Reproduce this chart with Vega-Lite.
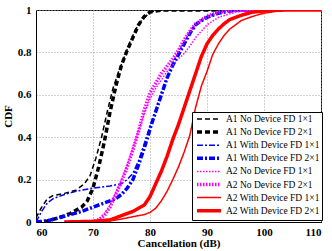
{
  "$schema": "https://vega.github.io/schema/vega-lite/v6.json",
  "width": 285,
  "height": 212,
  "autosize": {"type": "none"},
  "padding": {"left": 36, "top": 10, "right": 11, "bottom": 29},
  "background": "white",
  "config": {
    "view": {"stroke": "black", "strokeWidth": 1},
    "font": "Liberation Serif, Times New Roman, serif",
    "axis": {
      "labelFont": "Liberation Serif, Times New Roman, serif",
      "labelFontWeight": "bold",
      "labelFontSize": 11,
      "labelColor": "black",
      "titleFont": "Liberation Serif, Times New Roman, serif",
      "titleFontWeight": "bold",
      "titleFontSize": 11,
      "titleColor": "black",
      "domainColor": "black",
      "ticks": false,
      "gridColor": "#a0a0a0",
      "gridDash": [1, 2],
      "gridWidth": 1
    },
    "legend": {
      "labelFont": "Liberation Serif, Times New Roman, serif",
      "labelFontSize": 9.5,
      "labelColor": "black"
    }
  },
  "data": {
    "values": [
      {"series": "A1 No Device FD 1×1", "x": 60, "y": 0.02},
      {"series": "A1 No Device FD 1×1", "x": 61, "y": 0.07},
      {"series": "A1 No Device FD 1×1", "x": 62, "y": 0.11},
      {"series": "A1 No Device FD 1×1", "x": 63, "y": 0.125},
      {"series": "A1 No Device FD 1×1", "x": 65, "y": 0.135},
      {"series": "A1 No Device FD 1×1", "x": 67, "y": 0.15},
      {"series": "A1 No Device FD 1×1", "x": 68.5, "y": 0.18},
      {"series": "A1 No Device FD 1×1", "x": 69.5, "y": 0.22},
      {"series": "A1 No Device FD 1×1", "x": 70.5, "y": 0.3},
      {"series": "A1 No Device FD 1×1", "x": 71.5, "y": 0.4},
      {"series": "A1 No Device FD 1×1", "x": 72.5, "y": 0.52},
      {"series": "A1 No Device FD 1×1", "x": 73.5, "y": 0.63},
      {"series": "A1 No Device FD 1×1", "x": 74.5, "y": 0.71},
      {"series": "A1 No Device FD 1×1", "x": 75.5, "y": 0.78},
      {"series": "A1 No Device FD 1×1", "x": 76.5, "y": 0.85},
      {"series": "A1 No Device FD 1×1", "x": 77.5, "y": 0.91},
      {"series": "A1 No Device FD 1×1", "x": 78.5, "y": 0.95},
      {"series": "A1 No Device FD 1×1", "x": 80, "y": 0.99},
      {"series": "A1 No Device FD 1×1", "x": 82, "y": 1},
      {"series": "A1 No Device FD 1×1", "x": 100, "y": 1},

      {"series": "A1 No Device FD 2×1", "x": 60, "y": 0},
      {"series": "A1 No Device FD 2×1", "x": 62, "y": 0.005},
      {"series": "A1 No Device FD 2×1", "x": 64, "y": 0.02},
      {"series": "A1 No Device FD 2×1", "x": 66, "y": 0.04},
      {"series": "A1 No Device FD 2×1", "x": 68, "y": 0.07},
      {"series": "A1 No Device FD 2×1", "x": 69, "y": 0.1},
      {"series": "A1 No Device FD 2×1", "x": 70, "y": 0.16},
      {"series": "A1 No Device FD 2×1", "x": 71, "y": 0.26},
      {"series": "A1 No Device FD 2×1", "x": 72, "y": 0.38},
      {"series": "A1 No Device FD 2×1", "x": 73, "y": 0.52},
      {"series": "A1 No Device FD 2×1", "x": 74, "y": 0.64},
      {"series": "A1 No Device FD 2×1", "x": 75, "y": 0.74},
      {"series": "A1 No Device FD 2×1", "x": 76, "y": 0.81},
      {"series": "A1 No Device FD 2×1", "x": 77, "y": 0.87},
      {"series": "A1 No Device FD 2×1", "x": 78, "y": 0.93},
      {"series": "A1 No Device FD 2×1", "x": 79, "y": 0.97},
      {"series": "A1 No Device FD 2×1", "x": 80, "y": 0.99},
      {"series": "A1 No Device FD 2×1", "x": 82, "y": 1},
      {"series": "A1 No Device FD 2×1", "x": 100, "y": 1},

      {"series": "A1 With Device FD 1×1", "x": 60, "y": 0},
      {"series": "A1 With Device FD 1×1", "x": 61, "y": 0.05},
      {"series": "A1 With Device FD 1×1", "x": 62, "y": 0.09},
      {"series": "A1 With Device FD 1×1", "x": 63, "y": 0.11},
      {"series": "A1 With Device FD 1×1", "x": 65, "y": 0.13},
      {"series": "A1 With Device FD 1×1", "x": 67, "y": 0.145},
      {"series": "A1 With Device FD 1×1", "x": 70, "y": 0.16},
      {"series": "A1 With Device FD 1×1", "x": 73, "y": 0.17},
      {"series": "A1 With Device FD 1×1", "x": 75, "y": 0.18},
      {"series": "A1 With Device FD 1×1", "x": 76, "y": 0.2},
      {"series": "A1 With Device FD 1×1", "x": 77, "y": 0.23},
      {"series": "A1 With Device FD 1×1", "x": 78, "y": 0.29},
      {"series": "A1 With Device FD 1×1", "x": 79, "y": 0.37},
      {"series": "A1 With Device FD 1×1", "x": 80, "y": 0.45},
      {"series": "A1 With Device FD 1×1", "x": 81, "y": 0.53},
      {"series": "A1 With Device FD 1×1", "x": 82, "y": 0.61},
      {"series": "A1 With Device FD 1×1", "x": 83, "y": 0.68},
      {"series": "A1 With Device FD 1×1", "x": 84, "y": 0.75},
      {"series": "A1 With Device FD 1×1", "x": 85, "y": 0.8},
      {"series": "A1 With Device FD 1×1", "x": 86, "y": 0.85},
      {"series": "A1 With Device FD 1×1", "x": 87, "y": 0.89},
      {"series": "A1 With Device FD 1×1", "x": 88, "y": 0.93},
      {"series": "A1 With Device FD 1×1", "x": 89, "y": 0.95},
      {"series": "A1 With Device FD 1×1", "x": 90, "y": 0.97},
      {"series": "A1 With Device FD 1×1", "x": 92, "y": 0.99},
      {"series": "A1 With Device FD 1×1", "x": 95, "y": 1},
      {"series": "A1 With Device FD 1×1", "x": 100, "y": 1},

      {"series": "A1 With Device FD 2×1", "x": 60, "y": 0},
      {"series": "A1 With Device FD 2×1", "x": 62, "y": 0.005},
      {"series": "A1 With Device FD 2×1", "x": 64, "y": 0.02},
      {"series": "A1 With Device FD 2×1", "x": 66, "y": 0.035},
      {"series": "A1 With Device FD 2×1", "x": 68, "y": 0.05},
      {"series": "A1 With Device FD 2×1", "x": 70, "y": 0.07},
      {"series": "A1 With Device FD 2×1", "x": 72, "y": 0.09},
      {"series": "A1 With Device FD 2×1", "x": 74, "y": 0.11},
      {"series": "A1 With Device FD 2×1", "x": 75, "y": 0.13},
      {"series": "A1 With Device FD 2×1", "x": 76, "y": 0.16},
      {"series": "A1 With Device FD 2×1", "x": 77, "y": 0.2},
      {"series": "A1 With Device FD 2×1", "x": 78, "y": 0.27},
      {"series": "A1 With Device FD 2×1", "x": 79, "y": 0.35},
      {"series": "A1 With Device FD 2×1", "x": 79.6, "y": 0.4},
      {"series": "A1 With Device FD 2×1", "x": 80, "y": 0.44},
      {"series": "A1 With Device FD 2×1", "x": 81, "y": 0.52},
      {"series": "A1 With Device FD 2×1", "x": 82, "y": 0.6},
      {"series": "A1 With Device FD 2×1", "x": 83, "y": 0.68},
      {"series": "A1 With Device FD 2×1", "x": 84, "y": 0.74},
      {"series": "A1 With Device FD 2×1", "x": 85, "y": 0.79},
      {"series": "A1 With Device FD 2×1", "x": 86, "y": 0.84},
      {"series": "A1 With Device FD 2×1", "x": 87, "y": 0.89},
      {"series": "A1 With Device FD 2×1", "x": 88, "y": 0.93},
      {"series": "A1 With Device FD 2×1", "x": 89, "y": 0.95},
      {"series": "A1 With Device FD 2×1", "x": 90, "y": 0.965},
      {"series": "A1 With Device FD 2×1", "x": 92, "y": 0.985},
      {"series": "A1 With Device FD 2×1", "x": 95, "y": 1},
      {"series": "A1 With Device FD 2×1", "x": 100, "y": 1},

      {"series": "A2 No Device FD 1×1", "x": 65, "y": 0},
      {"series": "A2 No Device FD 1×1", "x": 70, "y": 0.003},
      {"series": "A2 No Device FD 1×1", "x": 71, "y": 0.015},
      {"series": "A2 No Device FD 1×1", "x": 72, "y": 0.04},
      {"series": "A2 No Device FD 1×1", "x": 73, "y": 0.08},
      {"series": "A2 No Device FD 1×1", "x": 74, "y": 0.14},
      {"series": "A2 No Device FD 1×1", "x": 75, "y": 0.2},
      {"series": "A2 No Device FD 1×1", "x": 76, "y": 0.27},
      {"series": "A2 No Device FD 1×1", "x": 77, "y": 0.35},
      {"series": "A2 No Device FD 1×1", "x": 78, "y": 0.43},
      {"series": "A2 No Device FD 1×1", "x": 79, "y": 0.51},
      {"series": "A2 No Device FD 1×1", "x": 80, "y": 0.58},
      {"series": "A2 No Device FD 1×1", "x": 81, "y": 0.63},
      {"series": "A2 No Device FD 1×1", "x": 82, "y": 0.67},
      {"series": "A2 No Device FD 1×1", "x": 83, "y": 0.71},
      {"series": "A2 No Device FD 1×1", "x": 84, "y": 0.74},
      {"series": "A2 No Device FD 1×1", "x": 85, "y": 0.77},
      {"series": "A2 No Device FD 1×1", "x": 86, "y": 0.795},
      {"series": "A2 No Device FD 1×1", "x": 87, "y": 0.83},
      {"series": "A2 No Device FD 1×1", "x": 88, "y": 0.87},
      {"series": "A2 No Device FD 1×1", "x": 89, "y": 0.9},
      {"series": "A2 No Device FD 1×1", "x": 90, "y": 0.93},
      {"series": "A2 No Device FD 1×1", "x": 92, "y": 0.965},
      {"series": "A2 No Device FD 1×1", "x": 95, "y": 0.99},
      {"series": "A2 No Device FD 1×1", "x": 98, "y": 1},
      {"series": "A2 No Device FD 1×1", "x": 100, "y": 1},

      {"series": "A2 No Device FD 2×1", "x": 65, "y": 0},
      {"series": "A2 No Device FD 2×1", "x": 70, "y": 0.002},
      {"series": "A2 No Device FD 2×1", "x": 71, "y": 0.01},
      {"series": "A2 No Device FD 2×1", "x": 72, "y": 0.03},
      {"series": "A2 No Device FD 2×1", "x": 73, "y": 0.07},
      {"series": "A2 No Device FD 2×1", "x": 74, "y": 0.13},
      {"series": "A2 No Device FD 2×1", "x": 75, "y": 0.19},
      {"series": "A2 No Device FD 2×1", "x": 76, "y": 0.26},
      {"series": "A2 No Device FD 2×1", "x": 77, "y": 0.34},
      {"series": "A2 No Device FD 2×1", "x": 78, "y": 0.43},
      {"series": "A2 No Device FD 2×1", "x": 79, "y": 0.53},
      {"series": "A2 No Device FD 2×1", "x": 80, "y": 0.61},
      {"series": "A2 No Device FD 2×1", "x": 81, "y": 0.655},
      {"series": "A2 No Device FD 2×1", "x": 82, "y": 0.7},
      {"series": "A2 No Device FD 2×1", "x": 83, "y": 0.735},
      {"series": "A2 No Device FD 2×1", "x": 84, "y": 0.77},
      {"series": "A2 No Device FD 2×1", "x": 85, "y": 0.81},
      {"series": "A2 No Device FD 2×1", "x": 86, "y": 0.86},
      {"series": "A2 No Device FD 2×1", "x": 87, "y": 0.9},
      {"series": "A2 No Device FD 2×1", "x": 88, "y": 0.935},
      {"series": "A2 No Device FD 2×1", "x": 90, "y": 0.97},
      {"series": "A2 No Device FD 2×1", "x": 92, "y": 0.99},
      {"series": "A2 No Device FD 2×1", "x": 96, "y": 1},
      {"series": "A2 No Device FD 2×1", "x": 100, "y": 1},

      {"series": "A2 With Device FD 1×1", "x": 70, "y": 0},
      {"series": "A2 With Device FD 1×1", "x": 73, "y": 0.005},
      {"series": "A2 With Device FD 1×1", "x": 75, "y": 0.014},
      {"series": "A2 With Device FD 1×1", "x": 77, "y": 0.025},
      {"series": "A2 With Device FD 1×1", "x": 78, "y": 0.03},
      {"series": "A2 With Device FD 1×1", "x": 79, "y": 0.035},
      {"series": "A2 With Device FD 1×1", "x": 80, "y": 0.045},
      {"series": "A2 With Device FD 1×1", "x": 81, "y": 0.065},
      {"series": "A2 With Device FD 1×1", "x": 82, "y": 0.1},
      {"series": "A2 With Device FD 1×1", "x": 83, "y": 0.145},
      {"series": "A2 With Device FD 1×1", "x": 84, "y": 0.2},
      {"series": "A2 With Device FD 1×1", "x": 85, "y": 0.26},
      {"series": "A2 With Device FD 1×1", "x": 86, "y": 0.33},
      {"series": "A2 With Device FD 1×1", "x": 87, "y": 0.41},
      {"series": "A2 With Device FD 1×1", "x": 88, "y": 0.54},
      {"series": "A2 With Device FD 1×1", "x": 89, "y": 0.64},
      {"series": "A2 With Device FD 1×1", "x": 90, "y": 0.71},
      {"series": "A2 With Device FD 1×1", "x": 91, "y": 0.79},
      {"series": "A2 With Device FD 1×1", "x": 92, "y": 0.84},
      {"series": "A2 With Device FD 1×1", "x": 93, "y": 0.88},
      {"series": "A2 With Device FD 1×1", "x": 94, "y": 0.91},
      {"series": "A2 With Device FD 1×1", "x": 95, "y": 0.93},
      {"series": "A2 With Device FD 1×1", "x": 96, "y": 0.95},
      {"series": "A2 With Device FD 1×1", "x": 98, "y": 0.97},
      {"series": "A2 With Device FD 1×1", "x": 100, "y": 0.985},
      {"series": "A2 With Device FD 1×1", "x": 103, "y": 0.997},
      {"series": "A2 With Device FD 1×1", "x": 106, "y": 1},
      {"series": "A2 With Device FD 1×1", "x": 110, "y": 1},

      {"series": "A2 With Device FD 2×1", "x": 65, "y": 0},
      {"series": "A2 With Device FD 2×1", "x": 70, "y": 0.003},
      {"series": "A2 With Device FD 2×1", "x": 73, "y": 0.01},
      {"series": "A2 With Device FD 2×1", "x": 75, "y": 0.03},
      {"series": "A2 With Device FD 2×1", "x": 77, "y": 0.05},
      {"series": "A2 With Device FD 2×1", "x": 79, "y": 0.08},
      {"series": "A2 With Device FD 2×1", "x": 80, "y": 0.12},
      {"series": "A2 With Device FD 2×1", "x": 81, "y": 0.18},
      {"series": "A2 With Device FD 2×1", "x": 82, "y": 0.24},
      {"series": "A2 With Device FD 2×1", "x": 83, "y": 0.31},
      {"series": "A2 With Device FD 2×1", "x": 84, "y": 0.39},
      {"series": "A2 With Device FD 2×1", "x": 85, "y": 0.46},
      {"series": "A2 With Device FD 2×1", "x": 86, "y": 0.54},
      {"series": "A2 With Device FD 2×1", "x": 87, "y": 0.62},
      {"series": "A2 With Device FD 2×1", "x": 88, "y": 0.7},
      {"series": "A2 With Device FD 2×1", "x": 89, "y": 0.78},
      {"series": "A2 With Device FD 2×1", "x": 90, "y": 0.84},
      {"series": "A2 With Device FD 2×1", "x": 91, "y": 0.88},
      {"series": "A2 With Device FD 2×1", "x": 92, "y": 0.91},
      {"series": "A2 With Device FD 2×1", "x": 93, "y": 0.935},
      {"series": "A2 With Device FD 2×1", "x": 94, "y": 0.955},
      {"series": "A2 With Device FD 2×1", "x": 96, "y": 0.975},
      {"series": "A2 With Device FD 2×1", "x": 98, "y": 0.99},
      {"series": "A2 With Device FD 2×1", "x": 101, "y": 0.998},
      {"series": "A2 With Device FD 2×1", "x": 104, "y": 1},
      {"series": "A2 With Device FD 2×1", "x": 110, "y": 1}
    ]
  },
  "mark": {"type": "line", "clip": true},
  "encoding": {
    "x": {
      "field": "x",
      "type": "quantitative",
      "title": "Cancellation (dB)",
      "scale": {"domain": [60, 110], "nice": false},
      "axis": {"values": [60, 70, 80, 90, 100, 110], "titlePadding": 0, "labelPadding": 4}
    },
    "y": {
      "field": "y",
      "type": "quantitative",
      "title": "CDF",
      "scale": {"domain": [0, 1], "nice": false},
      "axis": {"values": [0, 0.2, 0.4, 0.6, 0.8, 1], "format": "~g", "titlePadding": 4, "labelPadding": 5}
    },
    "color": {
      "field": "series",
      "type": "nominal",
      "title": null,
      "scale": {
        "domain": ["A1 No Device FD 1×1", "A1 No Device FD 2×1", "A1 With Device FD 1×1", "A1 With Device FD 2×1", "A2 No Device FD 1×1", "A2 No Device FD 2×1", "A2 With Device FD 1×1", "A2 With Device FD 2×1"],
        "range": ["black", "black", "#0000ff", "#0000ff", "#ff00ff", "#ff00ff", "#ff0000", "#ff0000"]
      },
      "legend": {
        "orient": "none",
        "legendX": 156,
        "legendY": 102,
        "symbolType": "M-0.75,0H5.25",
        "symbolSize": 64,
        "strokeColor": "black",
        "fillColor": "white",
        "padding": 2,
        "rowPadding": 1.1,
        "labelOffset": 20,
        "labelFontSize": 9.5
      }
    },
    "strokeDash": {
      "field": "series",
      "type": "nominal",
      "title": null,
      "scale": {
        "domain": ["A1 No Device FD 1×1", "A1 No Device FD 2×1", "A1 With Device FD 1×1", "A1 With Device FD 2×1", "A2 No Device FD 1×1", "A2 No Device FD 2×1", "A2 With Device FD 1×1", "A2 With Device FD 2×1"],
        "range": [[5, 3], [5, 3], [6, 2, 2, 2], [6, 2, 2, 2], [1.5, 1.5], [1.5, 1.5], [1, 0], [1, 0]]
      }
    },
    "strokeWidth": {
      "field": "series",
      "type": "nominal",
      "title": null,
      "scale": {
        "type": "ordinal",
        "domain": ["A1 No Device FD 1×1", "A1 No Device FD 2×1", "A1 With Device FD 1×1", "A1 With Device FD 2×1", "A2 No Device FD 1×1", "A2 No Device FD 2×1", "A2 With Device FD 1×1", "A2 With Device FD 2×1"],
        "range": [1.5, 3.5, 1.5, 3.5, 1.5, 3.5, 1.5, 3.5]
      }
    }
  }
}
